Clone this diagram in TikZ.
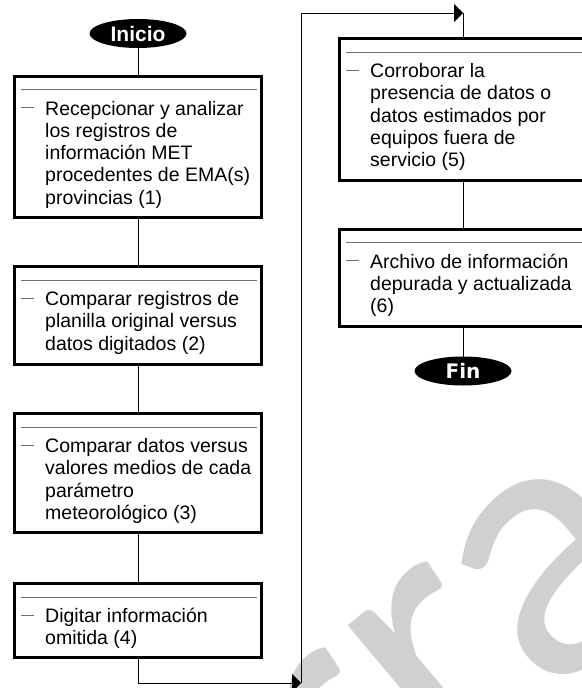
\documentclass[tikz,border=0pt]{standalone}
\usepackage{fontspec}
\setmainfont{Liberation Sans}
\newfontfamily\finfont{DejaVu Sans}
\newfontfamily\wmfont{Carlito}
\usetikzlibrary{shapes.geometric,arrows.meta,calc}
\definecolor{wmgray}{RGB}{208,208,208}
\definecolor{rulegray}{RGB}{110,110,110}
\begin{document}
\begin{tikzpicture}[x=1pt,y=-1pt,
  stepbox/.style={draw=black, line width=3pt, rectangle, minimum width=247pt, inner sep=0pt, outer sep=0pt, anchor=north west},
  term/.style={ellipse, fill=black, text=white, minimum width=97pt, minimum height=29pt, inner sep=0pt, outer sep=0pt},
  conn/.style={draw=black, line width=1pt},
  arr/.style={conn, -{Triangle[length=9pt,width=18pt]}},
  boxtext/.style={anchor=base west, inner sep=0pt, font=\fontsize{19.5}{22.3}\selectfont},
  inrule/.style={draw=rulegray, line width=1pt},
  wm/.style={anchor=base west, rotate=40, inner sep=0pt, text=wmgray, font=\wmfont\fontsize{385}{385}\selectfont}
  ]
\useasboundingbox (0,0) rectangle (581,688);
% watermark
\begin{scope}
\clip (0,0) rectangle (581,688);
\node[wm] (wmark) at (29,1134) {Borrador};
\end{scope}

% terminals
\node[term, font=\fontsize{21}{25}\selectfont\bfseries] (ini) at (138,33.5) {Inicio};
\node[term, font=\finfont\fontsize{20}{24}\selectfont\bfseries] (fin) at (463,371) {Fin};

% boxes
\node[stepbox, minimum height=141pt] (b1) at (14.5,76) {};
\node[stepbox, minimum height=98pt] (b2) at (14.5,266.5) {};
\node[stepbox, minimum height=119pt] (b3) at (14.5,413.5) {};
\node[stepbox, minimum height=74pt] (b4) at (14.5,583.5) {};
\node[stepbox, minimum height=141.5pt] (b5) at (339.5,38.5) {};
\node[stepbox, minimum height=97.5pt] (b6) at (339.5,229) {};

\foreach \b in {b1,b2,b3,b4,b5,b6}{
  \draw[inrule] ($(\b.north west)+(6,13.5)$) -- ($(\b.north east)+(-5,13.5)$);
  \draw[inrule] ($(\b.north west)+(6,31.5)$) -- ++(13,0);
}

\node[boxtext] (t1) at ($(b1.north west)+(30.5,39)$) {\parbox[t]{215pt}{\raggedright Recepcionar y analizar\\los registros de\\información MET\\procedentes de EMA(s)\\provincias (1)}};
\node[boxtext] (t2) at ($(b2.north west)+(30.5,39)$) {\parbox[t]{215pt}{\raggedright Comparar registros de\\planilla original versus\\datos digitados (2)}};
\node[boxtext] (t3) at ($(b3.north west)+(30.5,39)$) {\parbox[t]{215pt}{\raggedright Comparar datos versus\\valores medios de cada\\parámetro\\meteorológico (3)}};
\node[boxtext] (t4) at ($(b4.north west)+(30.5,39)$) {\parbox[t]{215pt}{\raggedright Digitar información\\omitida (4)}};
\node[boxtext] (t5) at ($(b5.north west)+(30.5,39)$) {\parbox[t]{215pt}{\raggedright Corroborar la\\presencia de datos o\\datos estimados por\\equipos fuera de\\servicio (5)}};
\node[boxtext] (t6) at ($(b6.north west)+(30.5,39)$) {\parbox[t]{215pt}{\raggedright Archivo de información\\depurada y actualizada\\(6)}};

% connectors
\draw[conn] (ini.south) -- (b1.north);
\draw[conn] (b1.south) -- (b2.north);
\draw[conn] (b2.south) -- (b3.north);
\draw[conn] (b3.south) -- (b4.north);
\coordinate (c1) at (301,683);
\coordinate (c2) at (301,13);
\coordinate (c3) at (463,13);
\draw[arr] (b4.south) |- (c1);
\draw[arr] (c1) -- (c2) -- (c3);
\draw[conn] (c3) -- (b5.north);
\draw[conn] (b5.south) -- (b6.north);
\draw[conn] (b6.south) -- (fin.north);
\end{tikzpicture}
\end{document}
